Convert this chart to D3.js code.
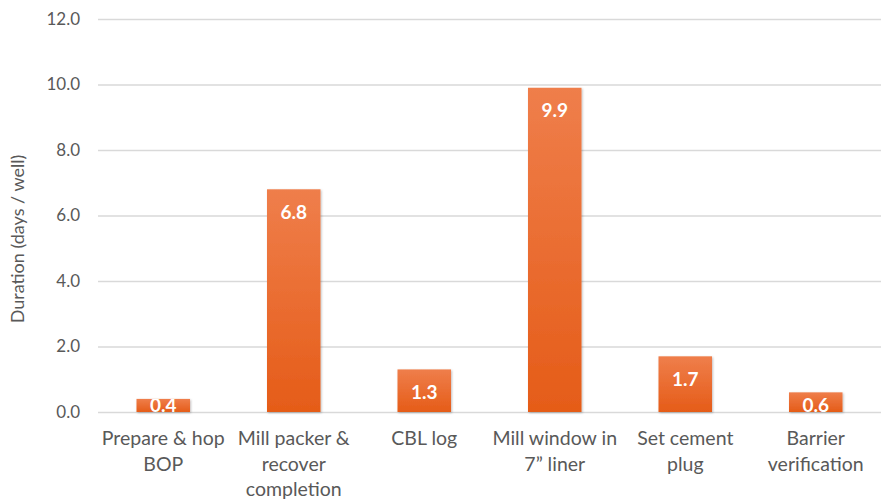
<!DOCTYPE html>
<html>
<head>
<meta charset="utf-8">
<script src="https://cdn.jsdelivr.net/npm/d3@7"></script>
<style>
  body { margin: 0; background: #fff; }
  text { font-family: Lato, "Open Sans", sans-serif; }
</style>
</head>
<body>
<script>
var svg_width = 881;
var svg_height = 499;

var categories = [
  ["Prepare & hop", "BOP"],
  ["Mill packer &", "recover", "completion"],
  ["CBL log"],
  ["Mill window in", "7\u201d liner"],
  ["Set cement", "plug"],
  ["Barrier", "verification"]
];
var durations = [0.4, 6.8, 1.3, 9.9, 1.7, 0.6];
var yTicks = [0, 2, 4, 6, 8, 10, 12];

var margin = { top: 19, right: 0, bottom: 87, left: 98 };
var width = svg_width - margin.left - margin.right;
var height = svg_height - margin.top - margin.bottom;

var svg = d3.select("body")
  .append("svg")
  .attr("width", svg_width)
  .attr("height", svg_height);

var defs = svg.append("defs");
var grad = defs.append("linearGradient")
  .attr("id", "barGrad")
  .attr("x1", 0).attr("y1", 0).attr("x2", 0).attr("y2", 1);
grad.append("stop").attr("offset", "0%").attr("stop-color", "#EF7E4B");
grad.append("stop").attr("offset", "100%").attr("stop-color", "#E55C18");

var shadow = defs.append("filter").attr("id", "shadow")
  .attr("x", "-20%").attr("y", "-20%").attr("width", "140%").attr("height", "140%");
shadow.append("feDropShadow")
  .attr("dx", 1).attr("dy", 1).attr("stdDeviation", 1.2)
  .attr("flood-color", "#000").attr("flood-opacity", 0.25);

var chartGroup = svg.append("g")
  .attr("transform", `translate(${margin.left}, ${margin.top})`);

var xScale = d3.scaleBand()
  .domain(d3.range(categories.length))
  .range([0, width])
  .paddingInner(0.59)
  .paddingOuter(0.295);

var yScale = d3.scaleLinear().domain([0, 12]).range([height, 0]);

// gridlines + tick labels
var leftAxis = d3.axisLeft(yScale)
  .tickValues(yTicks)
  .tickSize(-width)
  .tickPadding(18)
  .tickFormat(d3.format(".1f"));

var yAxisG = chartGroup.append("g").call(leftAxis);
yAxisG.select(".domain").remove();
yAxisG.selectAll(".tick line").attr("stroke", "#d9d9d9").attr("stroke-width", 1.3);
yAxisG.selectAll(".tick text")
  .attr("fill", "#595959")
  .style("font-size", "17px");

// bars
chartGroup.selectAll("rect.bar")
  .data(durations)
  .enter()
  .append("rect")
  .attr("class", "bar")
  .attr("x", (d, i) => xScale(i))
  .attr("y", d => yScale(d))
  .attr("width", xScale.bandwidth())
  .attr("height", d => height - yScale(d))
  .attr("fill", "url(#barGrad)")
  .attr("filter", "url(#shadow)");

// value labels, clipped to each bar
durations.forEach(function(d, i) {
  defs.append("clipPath").attr("id", "clip" + i)
    .append("rect")
    .attr("x", xScale(i))
    .attr("y", yScale(d))
    .attr("width", xScale.bandwidth())
    .attr("height", height - yScale(d));
});

chartGroup.selectAll("text.val")
  .data(durations)
  .enter()
  .append("text")
  .attr("class", "val")
  .attr("clip-path", (d, i) => `url(#clip${i})`)
  .attr("x", (d, i) => xScale(i) + xScale.bandwidth() / 2)
  .attr("y", d => Math.min(yScale(d) + 23, height - 7))
  .attr("dy", "0.35em")
  .attr("text-anchor", "middle")
  .attr("fill", "#fff")
  .style("font-size", "19px")
  .style("font-weight", "bold")
  .text(d => d.toFixed(1));

// category labels
var catG = chartGroup.selectAll("g.cat")
  .data(categories)
  .enter()
  .append("g")
  .attr("class", "cat")
  .attr("transform", (d, i) => `translate(${xScale(i) + xScale.bandwidth() / 2}, ${height + 33})`);

catG.selectAll("text")
  .data(d => d)
  .enter()
  .append("text")
  .attr("y", (d, j) => j * 25.5)
  .attr("text-anchor", "middle")
  .attr("fill", "#595959")
  .style("font-size", "19.5px")
  .text(d => d);

// y axis title
svg.append("text")
  .attr("transform", `translate(24, 239) rotate(-90)`)
  .attr("text-anchor", "middle")
  .attr("fill", "#595959")
  .style("font-size", "18px")
  .text("Duration (days / well)");
</script>
</body>
</html>
